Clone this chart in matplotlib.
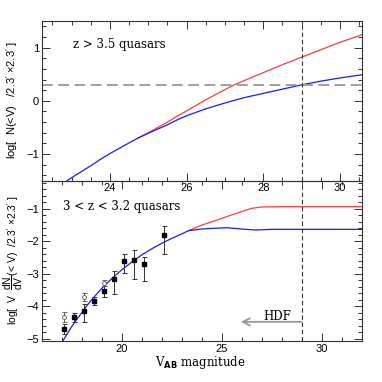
import numpy as np
import matplotlib.pyplot as plt
from matplotlib.ticker import MultipleLocator

# ── top panel: cumulative counts, z > 3.5 ─────────────────────────────────────
top_blue_v = [22.88, 23.1, 23.3, 23.5, 23.75, 24.0, 24.25, 24.5, 24.73, 25.0, 25.25, 25.5, 25.75, 26.0,
              26.5, 27.0, 27.5, 28.0, 28.5, 29.0, 29.5, 30.0, 30.57]
top_blue_n = [-1.50, -1.40, -1.31, -1.22, -1.10, -0.99, -0.89, -0.79, -0.70, -0.61, -0.53, -0.45, -0.36, -0.28,
              -0.15, -0.04, 0.06, 0.14, 0.22, 0.30, 0.37, 0.43, 0.49]
top_red_v = [24.73, 25.0, 25.25, 25.5, 25.75, 26.0, 26.5, 27.0, 27.24, 27.5, 28.0, 28.5, 29.0, 29.5, 30.0, 30.57]
top_red_n = [-0.70, -0.60, -0.50, -0.40, -0.29, -0.19, 0.02, 0.21, 0.30, 0.38, 0.53, 0.68, 0.82, 0.96, 1.10, 1.24]
one_per_field = 0.30
hdf_limit = 29.0

# ── bottom panel: differential counts, 3 < z < 3.2 ────────────────────────────
bot_blue_v = [17.05, 17.25, 17.5, 17.75, 18.0, 18.25, 18.5, 19.0, 19.5, 20.0, 20.5, 21.0, 21.5, 22.0, 22.5, 23.0, 23.34,
              24.0, 24.5, 25.3, 26.0, 26.7, 27.5, 28.0, 32.0]
bot_blue_n = [-5.08, -4.88, -4.63, -4.41, -4.20, -3.99, -3.80, -3.45, -3.15, -2.88, -2.64, -2.42, -2.23, -2.06, -1.91, -1.77, -1.67,
              -1.62, -1.60, -1.58, -1.62, -1.65, -1.63, -1.63, -1.63]
bot_red_v = [23.34, 24.0, 25.0, 26.0, 26.5, 27.0, 28.0, 32.0]
bot_red_n = [-1.67, -1.50, -1.29, -1.08, -0.98, -0.94, -0.93, -0.93]

obs_v = [17.1, 17.6, 18.1, 18.6, 19.1, 19.6, 20.1, 20.6, 21.1, 22.1]
obs_n = [-4.70, -4.33, -4.14, -3.84, -3.52, -3.15, -2.61, -2.57, -2.71, -1.81]
obs_up = [0.15, 0.12, 0.20, 0.13, 0.15, 0.23, 0.21, 0.29, 0.24, 0.28]
obs_lo = [0.16, 0.15, 0.34, 0.13, 0.20, 0.48, 0.38, 0.59, 0.51, 0.59]

open_v = [17.1, 18.1, 19.1]
open_n = [-4.34, -3.71, -3.28]
open_err = [0.15, 0.13, 0.10]

serif = ["DejaVu Serif"]
sans = ["Liberation Sans", "DejaVu Sans"]
plt.rcParams["font.family"] = sans
plt.rcParams["mathtext.fontset"] = "custom"
plt.rcParams["mathtext.rm"] = "Liberation Sans"
plt.rcParams["mathtext.it"] = "Liberation Sans"

fig = plt.figure(figsize=(3.82, 3.82), dpi=100)
ax1 = fig.add_axes([0.109, 0.527, 0.838, 0.418])
ax2 = fig.add_axes([0.109, 0.1065, 0.838, 0.4205])
ax2.patch.set_visible(False)

red = "#ff3b3b"
blue = "#1a1aff"

# top panel
ax1.plot(top_red_v, top_red_n, color=red, lw=0.9)
ax1.plot(top_blue_v, top_blue_n, color=blue, lw=0.9)
ax1.axhline(one_per_field, color="#999999", lw=1.3, dashes=(6, 3))
ax1.axvline(hdf_limit, color="#333333", lw=0.8, dashes=(4, 2.5))
ax1.set_xlim(22.22, 30.57)
ax1.set_ylim(-1.5, 1.5)
ax1.xaxis.set_major_locator(MultipleLocator(2))
ax1.xaxis.set_minor_locator(MultipleLocator(0.5))
ax1.yaxis.set_major_locator(MultipleLocator(1))
ax1.yaxis.set_minor_locator(MultipleLocator(0.2))
ax1.text(23.03, 1.06, "z > 3.5 quasars", fontsize=8.5, va="center", family=serif)

# bottom panel
ax2.plot(bot_red_v, bot_red_n, color=red, lw=0.9)
ax2.plot(bot_blue_v, bot_blue_n, color=blue, lw=0.9)
ax2.errorbar(obs_v, obs_n, yerr=[obs_lo, obs_up], fmt="s", ms=2.3, color="black",
             ecolor="#333333", elinewidth=0.7, capsize=1.8, capthick=0.7)
ax2.errorbar(open_v, open_n, yerr=open_err, fmt="o", ms=2.8, mfc="white", mec="#555555",
             mew=0.6, ecolor="#555555", elinewidth=0.7, capsize=1.8, capthick=0.7)
ax2.axvline(hdf_limit, color="#333333", lw=0.8, dashes=(4, 2.5))
ax2.annotate("", xy=(25.95, -4.48), xytext=(hdf_limit, -4.48),
             arrowprops=dict(arrowstyle="->", color="#999999", lw=1.3, mutation_scale=13,
                             shrinkA=0, shrinkB=0))
ax2.text(27.8, -4.30, "HDF", fontsize=8.5, ha="center", va="center", family=serif)
ax2.text(17.05, -0.93, "3 < z < 3.2 quasars", fontsize=8.5, va="center", family=serif)
ax2.set_xlim(16.0, 32.0)
ax2.set_ylim(-5.08, -0.13)
ax2.xaxis.set_major_locator(MultipleLocator(5))
ax2.xaxis.set_minor_locator(MultipleLocator(1))
ax2.yaxis.set_major_locator(MultipleLocator(1))
ax2.yaxis.set_minor_locator(MultipleLocator(0.2))

for ax in (ax1, ax2):
    ax.tick_params(which="both", direction="in", top=True, right=True, colors="#333333",
                   labelcolor="black", labelsize=8, width=0.7, pad=2)
    ax.tick_params(which="major", length=6)
    ax.tick_params(which="minor", length=3)
    for s in ax.spines.values():
        s.set_linewidth(0.8)
        s.set_color("#333333")
ax1.tick_params(axis="x", pad=1.5)

fig.text(0.032, 0.738, r"log[  N(<V)   /2.3$'$ ×2.3$'$ ]", rotation=90, fontsize=8,
         ha="center", va="center")
fig.text(0.034, 0.318, r"log[  V  $\dfrac{\mathrm{dN}}{\mathrm{dV}}$(< V)  /2.3$'$ ×2.3$'$ ]",
         rotation=90, fontsize=7.5, ha="center", va="center")
fig.text(0.525, 0.052, r"V$_{\mathbf{AB}}$ magnitude", fontsize=8.5, ha="center", va="center",
         family=serif)

fig.savefig("out.png", dpi=100)
